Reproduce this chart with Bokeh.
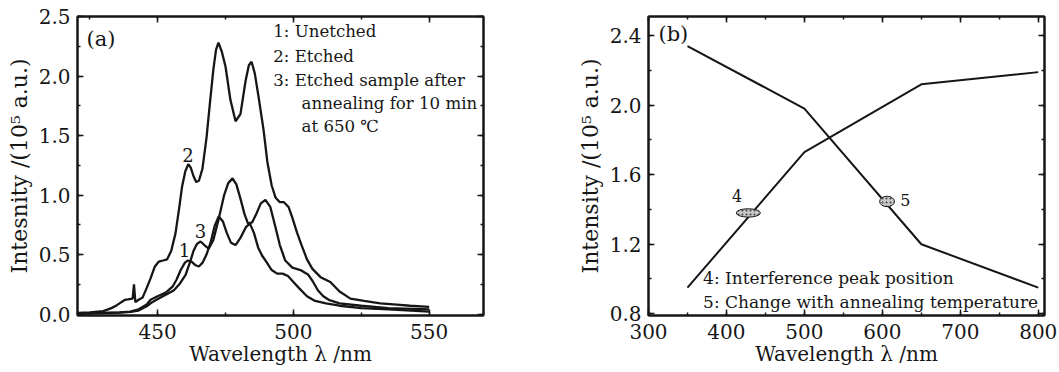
from bokeh.plotting import figure
from bokeh.layouts import row
from bokeh.models import Range1d, LinearAxis, SingleIntervalTicker, Label, PrintfTickFormatter
from bokeh.embed import file_html
from bokeh.resources import INLINE

# ---------------- data: panel (a) ----------------
wl_unetched = [420.6, 430, 436, 440, 443, 446, 447.4, 450, 453, 455.5, 457, 458.5, 460, 461, 462.5,
               464, 465.2, 466.5, 468, 469.5, 471, 472.5, 474, 475.5, 477, 478.7, 480.5, 482.5, 484,
               485.5, 487, 488.5, 490, 492, 494, 496, 498, 500, 502, 505, 508, 512, 517, 525, 535, 550]
int_unetched = [0.005, 0.01, 0.015, 0.02, 0.04, 0.08, 0.12, 0.15, 0.18, 0.23, 0.29, 0.37, 0.43, 0.45,
                0.44, 0.41, 0.40, 0.43, 0.50, 0.60, 0.74, 0.82, 0.78, 0.68, 0.60, 0.58, 0.64, 0.73,
                0.76, 0.68, 0.56, 0.49, 0.44, 0.37, 0.34, 0.34, 0.32, 0.27, 0.22, 0.15, 0.11, 0.09,
                0.07, 0.05, 0.04, 0.02]

wl_etched = [420.6, 425, 430, 433, 435, 438, 440.8, 441.3, 441.8, 443, 444.5, 446, 447.4, 449, 450.4,
             452, 453.5, 455, 456.6, 458, 459, 460.2, 461.3, 462.2, 463.2, 464.2, 465.2, 466.5, 468,
             469.3, 470.5, 471.5, 472.4, 473.7, 475, 476.8, 478.7, 480.5, 482.4, 483.6, 484.6, 485.8,
             487.2, 489, 490.4, 492, 493.4, 495, 496.5, 498.2, 499.6, 501.4, 503, 505, 507, 510,
             513.6, 517, 521, 526, 532, 538, 543, 550]
int_etched = [0.01, 0.015, 0.025, 0.05, 0.075, 0.12, 0.13, 0.25, 0.10, 0.12, 0.14, 0.22, 0.30, 0.40,
              0.44, 0.45, 0.46, 0.53, 0.68, 0.90, 1.07, 1.20, 1.26, 1.23, 1.16, 1.11, 1.12, 1.22,
              1.48, 1.78, 2.05, 2.22, 2.28, 2.20, 2.08, 1.80, 1.62, 1.68, 1.96, 2.09, 2.12, 2.02,
              1.82, 1.55, 1.28, 1.08, 0.98, 0.94, 0.94, 0.90, 0.81, 0.68, 0.58, 0.46, 0.38, 0.31,
              0.27, 0.19, 0.13, 0.11, 0.09, 0.08, 0.07, 0.06]

wl_annealed = [420.6, 430, 436, 440, 443, 446, 448, 450.4, 453.7, 456, 458, 460.3, 462, 463.2, 464.5,
               465.8, 467.2, 468.8, 470.5, 472.5, 474.5, 476, 477.6, 479, 480.5, 482, 483.3, 484.8,
               486.5, 488, 489.7, 491.5, 493.4, 495, 497, 499.6, 502.6, 505.5, 507, 509, 511, 513,
               517, 525, 535, 550]
int_annealed = [0.003, 0.008, 0.012, 0.018, 0.03, 0.065, 0.10, 0.13, 0.17, 0.20, 0.25, 0.33, 0.44,
                0.53, 0.59, 0.61, 0.58, 0.55, 0.62, 0.80, 1.00, 1.10, 1.14, 1.09, 0.97, 0.84, 0.76,
                0.77, 0.85, 0.93, 0.96, 0.90, 0.73, 0.58, 0.45, 0.39, 0.37, 0.33, 0.28, 0.20, 0.15,
                0.12, 0.09, 0.07, 0.05, 0.04]

legend_a = ["1: Unetched", "2: Etched", "3: Etched sample after", "annealing for 10 min", "at 650 \u2103"]

# ---------------- data: panel (b) ----------------
wl_b = [350, 500, 650, 800]
int_change = [2.34, 1.98, 1.20, 0.95]
int_peak = [0.95, 1.73, 2.12, 2.19]
marker_x = [428, 606]
marker_y = [1.38, 1.446]
legend_b = ["4: Interference peak position", "5: Change with annealing temperature"]

FONT = "DejaVu Serif"
INK = "#161616"


def style(p, xticker, yticker):
    p.grid.visible = False
    p.outline_line_color = INK
    p.outline_line_width = 2
    p.background_fill_color = "white"
    p.border_fill_color = "white"
    for ax in p.xaxis + p.yaxis:
        ax.axis_line_color = INK
        ax.axis_line_width = 2
        ax.major_tick_in = 6
        ax.major_tick_out = 0
        ax.minor_tick_in = 3
        ax.minor_tick_out = 0
        ax.major_tick_line_color = INK
        ax.minor_tick_line_color = INK
        ax.major_tick_line_width = 1.5
        ax.minor_tick_line_width = 1.5
        ax.major_label_text_font = FONT
        ax.major_label_text_font_size = "20px"
        ax.major_label_text_color = INK
        ax.axis_label_text_font = FONT
        ax.axis_label_text_font_style = "normal"
        ax.axis_label_text_color = INK
    p.xaxis.axis_label_text_font_size = "20px"
    p.yaxis.axis_label_text_font_size = "22px"
    p.xaxis.ticker = xticker
    p.yaxis.ticker = yticker
    p.yaxis.formatter = PrintfTickFormatter(format="%.1f")
    p.xaxis.major_label_standoff = 8
    p.yaxis.major_label_standoff = 7
    p.xaxis.axis_label_standoff = 0
    p.yaxis.axis_label_standoff = 4
    # mirrored axes (ticks only, no labels)
    top = LinearAxis(ticker=xticker, formatter=PrintfTickFormatter(format=""))
    right = LinearAxis(ticker=yticker, formatter=PrintfTickFormatter(format=""))
    for ax in (top, right):
        ax.axis_line_color = INK
        ax.axis_line_width = 2
        ax.major_tick_in = 6
        ax.major_tick_out = 0
        ax.minor_tick_in = 3
        ax.minor_tick_out = 0
        ax.major_tick_line_color = INK
        ax.minor_tick_line_color = INK
        ax.major_tick_line_width = 1.5
        ax.minor_tick_line_width = 1.5
        ax.major_label_text_font_size = "1px"
        ax.major_label_standoff = 0
    p.add_layout(top, "above")
    p.add_layout(right, "right")


# ---------------- panel (a) ----------------
pa = figure(width=568, height=372, x_range=Range1d(420.5, 570), y_range=Range1d(-0.012, 2.5),
            output_backend="svg", toolbar_location=None,
            min_border_left=77, min_border_right=85, min_border_top=16, min_border_bottom=57,
            x_axis_label="Wavelength \u03bb /nm", y_axis_label="Intesnity /(10\u2075 a.u.)")
style(pa, SingleIntervalTicker(interval=50, num_minor_ticks=2),
      SingleIntervalTicker(interval=0.5, num_minor_ticks=2))

for wl, it in ((wl_unetched, int_unetched), (wl_etched, int_etched), (wl_annealed, int_annealed)):
    pa.line(wl, it, line_color=INK, line_width=2.3)

pa.add_layout(Label(x=423.8, y=2.315, text="(a)", text_font=FONT, text_font_size="21px",
                    text_color=INK, text_baseline="middle", text_align="left"))
leg_x = [492.6, 492.6, 492.6, 503.0, 503.0]
leg_y = [2.37, 2.165, 1.965, 1.77, 1.575]
for t, lx, ly in zip(legend_a, leg_x, leg_y):
    pa.add_layout(Label(x=lx, y=ly, text=t, text_font=FONT, text_font_size="16.6px",
                        text_color=INK, text_baseline="middle", text_align="left"))
for t, lx, ly in (("1", 459.9, 0.537), ("2", 461.2, 1.34), ("3", 465.8, 0.70)):
    pa.add_layout(Label(x=lx, y=ly, text=t, text_font=FONT, text_font_size="18px",
                        text_color=INK, text_baseline="middle", text_align="center"))

# ---------------- panel (b) ----------------
pb = figure(width=491, height=372, x_range=Range1d(300, 808), y_range=Range1d(0.79, 2.51),
            output_backend="svg", toolbar_location=None,
            min_border_left=80, min_border_right=15, min_border_top=16, min_border_bottom=57,
            x_axis_label="Wavelength \u03bb /nm", y_axis_label="Intensity /(10\u2075 a.u.)")
style(pb, SingleIntervalTicker(interval=100, num_minor_ticks=2),
      SingleIntervalTicker(interval=0.4, num_minor_ticks=2))
pb.xaxis[0].formatter = PrintfTickFormatter(format="%d")

pb.line(wl_b, int_change, line_color=INK, line_width=2)
pb.line(wl_b, int_peak, line_color=INK, line_width=2)
pb.ellipse(x=[marker_x[0]], y=[marker_y[0]], width=31, height=0.048, fill_color="#c8c8c8",
           hatch_pattern=".", hatch_color="#444444", hatch_scale=4, line_color=INK, line_width=1)
pb.ellipse(x=[marker_x[1]], y=[marker_y[1]], width=19, height=0.06, fill_color="#c8c8c8",
           hatch_pattern=".", hatch_color="#444444", hatch_scale=4, line_color=INK, line_width=1)

pb.add_layout(Label(x=312.8, y=2.41, text="(b)", text_font=FONT, text_font_size="21px",
                    text_color=INK, text_baseline="middle", text_align="left"))
for t, lx, ly in (("4", 413.7, 1.479), ("5", 629.5, 1.456)):
    pb.add_layout(Label(x=lx, y=ly, text=t, text_font=FONT, text_font_size="16px",
                        text_color=INK, text_baseline="middle", text_align="center"))
for t, ly in zip(legend_b, [1.007, 0.868]):
    pb.add_layout(Label(x=370, y=ly, text=t, text_font=FONT, text_font_size="17px",
                        text_color=INK, text_baseline="middle", text_align="left"))

layout = row(pa, pb)
open("out.html", "w").write(file_html(layout, INLINE))
